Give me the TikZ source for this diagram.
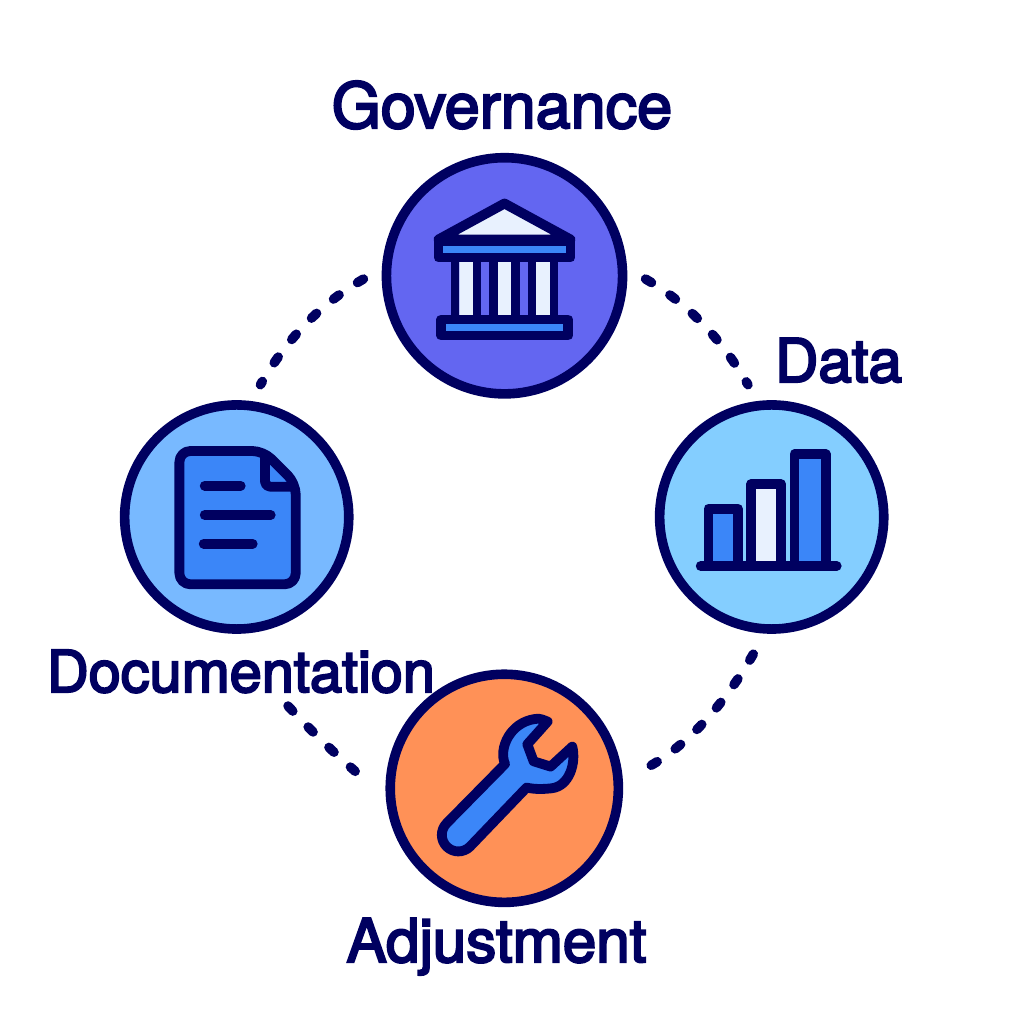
\documentclass[tikz,border=0pt]{standalone}
\usepackage{fontspec}
\setmainfont{TeX Gyre Heros}
\newfontfamily\labfont[FakeBold=3.5]{TeX Gyre Heros}
\usepackage{xcolor}
\usepackage{tikz}
\definecolor{navy}{HTML}{000060}
\definecolor{indigo}{HTML}{6366F1}
\definecolor{sky}{HTML}{78B9FF}
\definecolor{aqua}{HTML}{84CEFF}
\definecolor{peach}{HTML}{FF9157}
\definecolor{blue}{HTML}{3B86F8}
\definecolor{pale}{HTML}{E8F1FE}
\tikzset{
  disc/.style={circle, draw=navy, line width=0.096cm, outer sep=0pt, inner sep=0pt},
  lab/.style={text=navy, anchor=base, inner sep=0pt, font=\fontsize{#1}{20}\labfont},
  dotlink/.style={draw=navy, line width=0.095cm, line cap=round, dash pattern=on 0.07cm off 0.221cm},
  icon/.style={draw=navy, line width=0.098cm, line join=round, line cap=round}
}
\begin{document}
\begin{tikzpicture}[x=0.01cm, y=0.01cm]
  \useasboundingbox (0,0) rectangle (1024,1024);
  \node[disc, fill=indigo, minimum size=2.36cm] (gov) at (504.5,748.2) {};
  \node[disc, fill=aqua, minimum size=2.24cm] (data) at (771.7,507) {};
  \node[disc, fill=sky, minimum size=2.24cm] (doc) at (236.7,507) {};
  \node[disc, fill=peach, minimum size=2.28cm] (adj) at (504.3,235.7) {};

  \node[lab=17.9] (govlab) at (502,896) {Governance};
  \node[lab=17.1] (datalab) at (838.5,642) {Data};
  \node[lab=16.4] (doclab) at (241,332) {Documentation};
  \node[lab=17.1] (adjlab) at (496.5,62) {Adjustment};
  \coordinate (docdots) at (288,318);

  % dots between the discs
  \draw[dotlink, shorten <=0.27cm, shorten >=0.24cm] (gov.5) to[out=-30, in=120] (data.96);
  \draw[dotlink, shorten <=0.27cm, shorten >=0.24cm] (gov.175) to[out=210, in=60] (doc.84);
  \draw[dotlink, shorten <=0.29cm, shorten >=0.37cm] (data.-92) to[out=-120, in=30] (adj.2);
  \draw[dotlink, shorten >=0.52cm] (docdots) to[out=-47, in=135] (adj.190);

  % governance
  \begin{scope}[shift={(gov)}]
    \fill[pale] (-45.2,14.7) rectangle (-31.5,-40) (-7.2,14.7) rectangle (6.8,-40) (31.5,14.7) rectangle (45.5,-40);
    \draw[icon, line width=0.084cm] (-49.3,18.7) -- (-49.3,-44.3) (-27.3,18.7) -- (-27.3,-44.3) (-11.2,18.7) -- (-11.2,-44.3)
      (11,18.7) -- (11,-44.3) (27.5,18.7) -- (27.5,-44.3) (49.5,18.7) -- (49.5,-44.3);
    \draw[icon, fill=pale] (0,72.3) -- (-66,36.3) -- (66,36.3) -- cycle;
    \draw[icon, fill=blue] (-66,34.8) rectangle (66,18.2);
    \draw[icon, fill=blue] (-63.3,-43.8) rectangle (63.8,-59.8);
  \end{scope}

  % documentation
  \begin{scope}[shift={(doc)}]
    \draw[icon, fill=blue, rounded corners=0.11cm] (-57.3,66) -- (26.7,66) -- (59,33.7) -- (59,-67.3) -- (-57.3,-67.3) -- cycle;
    \draw[icon, rounded corners=0.05cm] (28.3,60) -- (28.3,30.3) -- (56,30.3);
    \draw[icon] (-32,31.3) -- (4,31.3);
    \draw[icon] (-32,2) -- (34,2);
    \draw[icon] (-33,-26.7) -- (16,-26.7);
  \end{scope}

  % data
  \begin{scope}[shift={(data)}]
    \draw[icon, fill=blue] (-63.3,-49) -- (-63.3,8.3) -- (-33.7,8.3) -- (-33.7,-49);
    \draw[icon, fill=pale] (-20.5,-49) -- (-20.5,32.8) -- (9.5,32.8) -- (9.5,-49);
    \draw[icon, fill=blue] (22.7,-49) -- (22.7,62.8) -- (54,62.8) -- (54,-49);
    \draw[icon] (-71,-49) -- (65,-49);
  \end{scope}

  % adjustment
  \begin{scope}[shift={(adj)}]
    \draw[icon, fill=blue] (-57.7,-35) -- (0.7,24.3) .. controls (-6,40) and (6,66) .. (30.7,69.3)
      .. controls (35,70.5) and (40,68) .. (43.3,66.7) -- (23,44) -- (29.3,27) -- (46.3,21.7) -- (68,41.7)
      .. controls (72,25) and (65,2) .. (47.3,0) .. controls (38,-1) and (30,-1) .. (22.3,0.7)
      -- (-34.3,-58.3) arc (-45:-225:16.5) -- cycle;
  \end{scope}
\end{tikzpicture}
\end{document}
